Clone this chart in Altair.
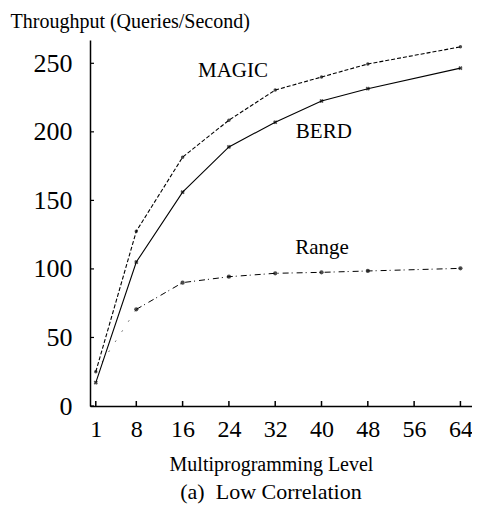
import altair as alt
import pandas as pd

levels = [1, 8, 16, 24, 32, 40, 48, 64]
magic = [25, 127.5, 181.5, 208.5, 230.5, 240, 249.5, 262]
berd = [17, 105, 156, 189, 207, 222.5, 231.5, 246.5]
range_vals = [25, 70.5, 90, 94.3, 96.8, 97.5, 98.5, 100.4]

x_ticks = [1, 8, 16, 24, 32, 40, 48, 56, 64]
y_ticks = [0, 50, 100, 150, 200, 250]

label_text = ["MAGIC", "BERD", "Range"]
label_x = [24.7, 40.4, 40.1]
label_y = [240, 195.5, 110.9]

caption = ["(a)\u00a0\u00a0Low Correlation"]

FONT = "Liberation Serif"

df_magic = pd.DataFrame({"level": levels, "value": magic})
df_berd = pd.DataFrame({"level": levels, "value": berd})
df_range = pd.DataFrame({"level": levels, "value": range_vals})
df_range_a = df_range.iloc[:2]
df_range_b = df_range.iloc[1:]
df_xt = pd.DataFrame({"level": x_ticks})
df_yt = pd.DataFrame({"value": y_ticks})
df_lab = pd.DataFrame({"text": label_text, "level": label_x, "value": label_y})
df_cap = pd.DataFrame({"text": caption})

xscale = alt.Scale(domain=[0, 66], nice=False, zero=False)
yscale = alt.Scale(domain=[0, 267], nice=False)

X = alt.X(
    "level:Q",
    scale=xscale,
    axis=alt.Axis(
        values=x_ticks,
        title="Multiprogramming Level",
        titleFont=FONT,
        titleFontSize=20,
        titleFontWeight="normal",
        titleColor="black",
        titleAlign="center",
        titleBaseline="alphabetic",
        titleX=181,
        titleY=64,
        labelFont=FONT,
        labelFontSize=24,
        labelColor="black",
        labelPadding=11,
        labelFlush=False,
        ticks=False,
        grid=False,
        domainColor="black",
        domainWidth=1.5,
    ),
)
Y = alt.Y(
    "value:Q",
    scale=yscale,
    axis=alt.Axis(
        values=y_ticks,
        title="Throughput (Queries/Second)",
        titleFont=FONT,
        titleFontSize=20,
        titleFontWeight="normal",
        titleColor="black",
        titleAngle=0,
        titleAlign="left",
        titleBaseline="alphabetic",
        titleX=-80,
        titleY=-13,
        labelFont=FONT,
        labelFontSize=26,
        labelColor="black",
        labelPadding=18,
        labelFlush=False,
        ticks=False,
        grid=False,
        domainColor="black",
        domainWidth=1.5,
    ),
)

magic_line = alt.Chart(df_magic).mark_line(
    color="black", strokeWidth=1.1, strokeDash=[4, 2]
).encode(x=X, y=Y)
magic_pts = alt.Chart(df_magic).mark_point(
    filled=True, color="black", size=12, shape="circle"
).encode(x=X, y=Y)

berd_line = alt.Chart(df_berd).mark_line(color="black", strokeWidth=1.1).encode(x=X, y=Y)
berd_pts = alt.Chart(df_berd).mark_point(
    color="black", size=18, shape="cross", angle=45, filled=True
).encode(x=X, y=Y)

range_line_a = alt.Chart(df_range_a).mark_line(
    color="black", strokeWidth=1.0, strokeDash=[1, 11]
).encode(x=X, y=Y)
range_line_b = alt.Chart(df_range_b).mark_line(
    color="black", strokeWidth=1.0, strokeDash=[6, 3, 1, 4]
).encode(x=X, y=Y)
range_pts = alt.Chart(df_range.iloc[1:]).mark_point(
    filled=True, color="black", size=18, shape="circle"
).encode(x=X, y=Y)

xt = alt.Chart(df_xt).mark_rule(color="black", strokeWidth=1.5).encode(
    x=X, y=alt.value(366), y2=alt.value(361)
)
yt = alt.Chart(df_yt).mark_rule(color="black", strokeWidth=1.2).encode(
    y=Y, x=alt.value(0), x2=alt.value(4)
)

labels = alt.Chart(df_lab).mark_text(
    font=FONT, fontSize=21, color="black", align="center", baseline="alphabetic"
).encode(x=X, y=Y, text="text:N")

cap = alt.Chart(df_cap).mark_text(
    font=FONT, fontSize=22, color="black", align="center", baseline="alphabetic"
).encode(x=alt.value(181), y=alt.value(459), text="text:N")

chart = alt.layer(
    magic_line, berd_line, range_line_a, range_line_b,
    magic_pts, berd_pts, range_pts, xt, yt, labels, cap
).properties(
    width=382,
    height=366,
    padding={"left": 82, "top": 32, "right": 0, "bottom": 100},
    autosize=alt.AutoSizeParams(type="none"),
    background="white",
).configure_view(stroke=None)

chart.save("out.html", embed_options={"renderer": "svg", "actions": False})
